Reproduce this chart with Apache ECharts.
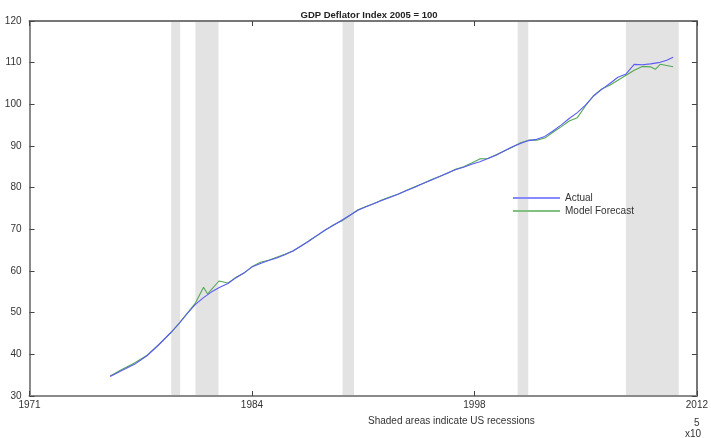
<!DOCTYPE html>
<html>
<head>
<meta charset="utf-8">
<script src="https://cdn.jsdelivr.net/npm/echarts@6/dist/echarts.min.js"></script>
<style>
html,body{margin:0;padding:0;background:#fff;}
#chart{width:711px;height:438px;}
</style>
</head>
<body>
<div id="chart"></div>
<script>
// ---- data (decimal years / index values) ----
var actualYears = [1976.25,1977.0,1977.75,1978.5,1979.25,1980.0,1980.5,1981.0,1981.5,1982.0,1982.5,1983.0,1983.5,1984.0,1984.5,1985.0,1985.5,1986.0,1986.5,1987.0,1987.5,1988.0,1988.5,1989.0,1989.5,1990.0,1990.5,1991.0,1991.5,1992.0,1992.5,1993.0,1993.5,1994.0,1994.5,1995.0,1995.5,1996.0,1996.5,1997.0,1997.5,1998.0,1998.5,1999.0,1999.5,2000.0,2000.5,2001.0,2001.5,2002.0,2002.5,2003.0,2003.5,2004.0,2004.5,2005.0,2005.5,2006.0,2006.5,2007.0,2007.5,2008.0,2008.5,2009.0,2009.5,2010.0,2010.5,2010.9];
var actualValues = [34.7,36.2,37.6,39.6,42.3,45.3,47.4,49.8,52.0,53.6,55.0,56.1,57.0,58.4,59.6,61.0,61.8,62.5,63.1,63.9,64.8,66.0,67.2,68.6,69.9,71.0,72.2,73.4,74.6,75.4,76.2,77.0,77.7,78.5,79.3,80.1,81.0,81.8,82.6,83.5,84.3,84.9,85.6,86.2,87.0,87.8,88.8,89.8,90.6,91.3,91.6,92.3,93.6,95.0,96.6,98.0,99.8,102.0,103.6,105.0,106.5,107.3,109.6,109.5,109.7,110.0,110.6,111.3];

var forecastYears = [1976.25,1977.0,1977.75,1978.5,1979.25,1980.0,1980.5,1981.0,1981.5,1982.0,1982.25,1982.95,1983.5,1984.0,1984.5,1985.0,1985.5,1986.0,1986.5,1987.0,1987.5,1988.0,1988.5,1989.0,1989.5,1990.0,1990.5,1991.0,1991.5,1992.0,1992.5,1993.0,1993.5,1994.0,1994.5,1995.0,1995.5,1996.0,1996.5,1997.0,1997.5,1998.0,1998.5,1999.0,1999.5,2000.0,2000.5,2001.0,2001.5,2002.0,2002.5,2003.0,2003.5,2004.0,2004.5,2005.0,2005.5,2006.0,2006.5,2007.0,2007.5,2008.0,2008.5,2009.0,2009.5,2009.8,2010.1,2010.5,2010.9];
var forecastValues = [34.8,36.4,37.9,39.7,42.4,45.2,47.5,49.9,52.3,56.1,54.5,57.6,57.1,58.5,59.5,61.1,62.1,62.6,63.3,64.0,64.8,66.0,67.3,68.5,69.8,71.1,72.0,73.3,74.7,75.5,76.2,77.1,77.8,78.5,79.4,80.2,81.0,81.9,82.7,83.4,84.4,85.0,85.9,86.9,87.0,87.9,88.8,89.7,90.8,91.4,91.4,91.9,93.3,94.6,96.0,96.8,99.6,102.1,103.7,104.6,105.8,107.0,108.2,109.1,109.0,108.4,109.6,109.3,109.0];

var recessionStarts = [1980.01, 1981.50, 1990.55, 2001.33, 2007.99];
var recessionEnds   = [1980.56, 1982.92, 1991.26, 2001.98, 2011.24];

var seriesNames = ['Actual', 'Model Forecast'];
var titleText = 'GDP Deflator Index 2005 = 100';
var xLabelText = 'Shaded areas indicate US recessions';

// MATLAB-style serial date numbers
function datenum(y) { return 719529 + (y - 1970) * 365.25; }
function pairs(xs, ys) { return xs.map(function (x, i) { return [datenum(x), ys[i]]; }); }

var recessionAreas = recessionStarts.map(function (s, i) {
  return [{ xAxis: datenum(s) }, { xAxis: datenum(recessionEnds[i]) }];
});

var FONT = '"Liberation Sans Narrow","Arial Narrow","Liberation Sans",Arial,sans-serif';
var axisGray = '#8a8a8a';
var tickCol = '#444';

var chart = echarts.init(document.getElementById('chart'), null, { renderer: 'canvas' });
chart.setOption({
  animation: false,
  backgroundColor: '#fff',
  textStyle: { fontFamily: FONT },
  title: {
    text: titleText, left: 364, top: 5, textAlign: 'center',
    textStyle: { fontSize: 9.5, fontWeight: 'bold', color: '#222', fontFamily: FONT }
  },
  grid: { left: 29.5, right: 12, top: 21, bottom: 42, containLabel: false },
  legend: {
    data: seriesNames, orient: 'vertical', left: 513, top: 193,
    itemWidth: 47, itemHeight: 2, itemGap: 3, icon: 'rect',
    textStyle: { fontSize: 10, color: '#333', fontFamily: FONT, padding: [0, 0, 0, 0] },
    padding: 0
  },
  xAxis: [{
    type: 'value', position: 'bottom', min: 720000, max: 735000, interval: 5000, z: 5,
    axisLine: { lineStyle: { color: axisGray, width: 2 } },
    axisTick: { inside: true, length: 5, lineStyle: { color: tickCol, width: 1 } },
    axisLabel: {
      margin: 4, fontSize: 10, color: '#333', fontFamily: FONT,
      formatter: function (v) { return String(Math.floor(1970 + (v - 719529) / 365.25)); }
    },
    splitLine: { show: false }
  }, {
    type: 'value', position: 'top', min: 720000, max: 735000, interval: 5000, z: 5,
    axisLine: { lineStyle: { color: '#777', width: 2 } },
    axisTick: { inside: true, length: 5, lineStyle: { color: tickCol, width: 1 } },
    axisLabel: { show: false }, splitLine: { show: false }
  }],
  yAxis: [{
    type: 'value', position: 'left', min: 30, max: 120, interval: 10, z: 5,
    axisLine: { show: true, lineStyle: { color: axisGray, width: 2 } },
    axisTick: { show: true, inside: true, length: 5, lineStyle: { color: tickCol, width: 1 } },
    axisLabel: { margin: 8, fontSize: 10, color: '#333', fontFamily: FONT },
    splitLine: { show: false }
  }, {
    type: 'value', position: 'right', min: 30, max: 120, interval: 10, z: 5,
    axisLine: { show: true, lineStyle: { color: '#777', width: 2 } },
    axisTick: { show: true, inside: true, length: 5, lineStyle: { color: tickCol, width: 1 } },
    axisLabel: { show: false }, splitLine: { show: false }
  }],
  series: [{
    name: 'Model Forecast', type: 'line', data: pairs(forecastYears, forecastValues),
    showSymbol: false, symbol: 'none', z: 2,
    lineStyle: { color: '#55a855', width: 1.1 }, itemStyle: { color: '#80c080' },
    markArea: { silent: true, itemStyle: { color: '#e3e3e3' }, data: recessionAreas }
  }, {
    name: 'Actual', type: 'line', data: pairs(actualYears, actualValues),
    showSymbol: false, symbol: 'none', z: 3,
    lineStyle: { color: '#5b5bf5', width: 1.1 }, itemStyle: { color: '#8888ff' }
  }],
  graphic: [
    { type: 'text', left: 368, top: 416, style: { text: xLabelText, fontSize: 10, fill: '#333', fontFamily: FONT, textAlign: 'center' } },
    { type: 'text', left: 694, top: 418, style: { text: '5', fontSize: 10, fill: '#333', fontFamily: FONT } },
    { type: 'text', left: 685, top: 429, style: { text: 'x10', fontSize: 10, fill: '#333', fontFamily: FONT } }
  ]
});
</script>
</body>
</html>
